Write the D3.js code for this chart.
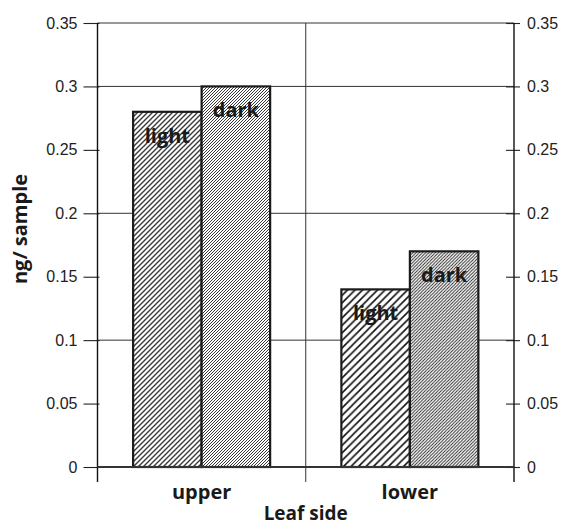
<!DOCTYPE html>
<html>
<head>
<meta charset="utf-8">
<title>Leaf side</title>
<script src="https://cdn.jsdelivr.net/npm/d3@7"></script>
<style>
body { margin: 0; background: #fff; }
.tick text { font-family: "Liberation Sans", Arial, sans-serif; font-size: 16px; fill: #222; }
.lbl { font-family: "Open Sans", sans-serif; font-weight: 700; fill: #1a1a1a; }
</style>
</head>
<body>
<script>
const categories = ["upper", "lower"]
const series = ["light", "dark"]
const light = [0.28, 0.14]
const dark = [0.30, 0.17]
const yTicks = [0, 0.05, 0.1, 0.15, 0.2, 0.25, 0.3, 0.35]
const yTickLabels = ["0", "0.05", "0.1", "0.15", "0.2", "0.25", "0.3", "0.35"]
const yMinor = d3.range(0, 36).map(i => i / 100)
const yGrid = [0.1, 0.2, 0.3, 0.35]

const W = 562, H = 527
const L = 97.5, R = 514, T = 23, B = 467

var svg = d3.select("body").append("svg")
    .attr("width", W).attr("height", H)

var y = d3.scaleLinear().domain([0, 0.35]).range([B, T])
var x0 = d3.scaleBand().domain(categories).range([L, R]).padding(0)
var x1 = d3.scaleBand().domain(series).range([0, x0.bandwidth()])
    .paddingInner(0).paddingOuter(0.52)

var data = []
categories.forEach(function(c, i) {
  data.push({cat: c, s: "light", v: light[i]})
  data.push({cat: c, s: "dark", v: dark[i]})
})

// "/" hatching, s = horizontal spacing between lines
var defs = svg.append("defs")
var hatch = {
  "upper-light": {s: 5, w: 1.4, col: "#3a3a3a"},
  "upper-dark":  {s: 3, w: 0.9, col: "#222"},
  "lower-light": {s: 7.5, w: 1.6, col: "#111"},
  "lower-dark":  {s: 3.2, w: 0.95, col: "#222"}
}
Object.keys(hatch).forEach(function(k) {
  var h = hatch[k], s = h.s
  var p = defs.append("pattern").attr("id", "h-" + k)
      .attr("patternUnits", "userSpaceOnUse")
      .attr("width", s).attr("height", s)
  p.append("rect").attr("width", s).attr("height", s).attr("fill", "#fff")
  p.append("path")
      .attr("d", "M" + (-s / 2) + "," + (s / 2) + "L" + (s / 2) + "," + (-s / 2) +
                 "M0," + s + "L" + s + ",0" +
                 "M" + (s / 2) + "," + (s * 1.5) + "L" + (s * 1.5) + "," + (s / 2))
      .attr("stroke", h.col).attr("stroke-width", h.w)
})

// grid
svg.selectAll(".grid").data(yGrid).enter().append("line")
    .attr("x1", L).attr("x2", R)
    .attr("y1", d => y(d)).attr("y2", d => y(d))
    .attr("stroke", "#333").attr("stroke-width", 1)
svg.append("line")
    .attr("x1", x0("lower")).attr("x2", x0("lower"))
    .attr("y1", T).attr("y2", B + 15)
    .attr("stroke", "#333").attr("stroke-width", 1)

// bars
svg.selectAll(".bar").data(data).enter().append("rect")
    .attr("x", d => x0(d.cat) + x1(d.s))
    .attr("width", x1.bandwidth())
    .attr("y", d => y(d.v))
    .attr("height", d => y(0) - y(d.v))
    .attr("fill", d => "url(#h-" + d.cat + "-" + d.s + ")")
    .attr("stroke", "#1a1a1a").attr("stroke-width", 2.2)

svg.selectAll(".barlbl").data(data).enter().append("text")
    .attr("class", "lbl")
    .attr("x", d => x0(d.cat) + x1(d.s) + x1.bandwidth() / 2)
    .attr("y", d => y(d.v) + 31)
    .attr("text-anchor", "middle")
    .style("font-size", "20px")
    .text(d => d.s)

// left axis
var gl = svg.append("g").attr("transform", "translate(" + L + ",0)")
gl.call(d3.axisLeft(y).tickValues(yMinor).tickSize(5).tickFormat(""))
gl.call(d3.axisLeft(y).tickValues(yTicks).tickSize(14).tickPadding(6)
    .tickFormat((d, i) => yTickLabels[i]))
gl.selectAll(".tick line").filter(function() { return +d3.select(this).attr("x2") === -14 })
    .attr("x1", 2)
gl.selectAll("path.domain").remove()

// right axis
var gr = svg.append("g").attr("transform", "translate(" + R + ",0)")
gr.call(d3.axisRight(y).tickValues(yMinor).tickSize(4).tickFormat(""))
gr.call(d3.axisRight(y).tickValues(yTicks).tickSize(6).tickPadding(7)
    .tickFormat((d, i) => yTickLabels[i]))
gr.selectAll(".tick line").filter(function() { return +d3.select(this).attr("x2") === 6 })
    .attr("x1", -8)
gr.selectAll("path.domain").remove()

svg.selectAll(".tick line").attr("stroke", "#222").attr("stroke-width", 1.1)

// frame
svg.append("line").attr("x1", L).attr("x2", L).attr("y1", T).attr("y2", B + 15)
    .attr("stroke", "#111").attr("stroke-width", 1.4)
svg.append("line").attr("x1", R).attr("x2", R).attr("y1", T).attr("y2", B + 15)
    .attr("stroke", "#111").attr("stroke-width", 1.4)
svg.append("line").attr("x1", L).attr("x2", R).attr("y1", y(0)).attr("y2", y(0))
    .attr("stroke", "#333").attr("stroke-width", 2)

// category labels
svg.selectAll(".cat").data(categories).enter().append("text")
    .attr("class", "lbl")
    .attr("x", d => x0(d) + x0.bandwidth() / 2)
    .attr("y", 499)
    .attr("text-anchor", "middle")
    .style("font-size", "20px")
    .text(d => d)

svg.append("text").attr("class", "lbl")
    .attr("x", (L + R) / 2).attr("y", 520)
    .attr("text-anchor", "middle")
    .style("font-size", "19px")
    .text("Leaf side")

svg.append("text").attr("class", "lbl")
    .attr("transform", "translate(27," + 229 + ") rotate(-90)")
    .attr("text-anchor", "middle")
    .style("font-size", "20px")
    .text("ng/ sample")
</script>
</body>
</html>
